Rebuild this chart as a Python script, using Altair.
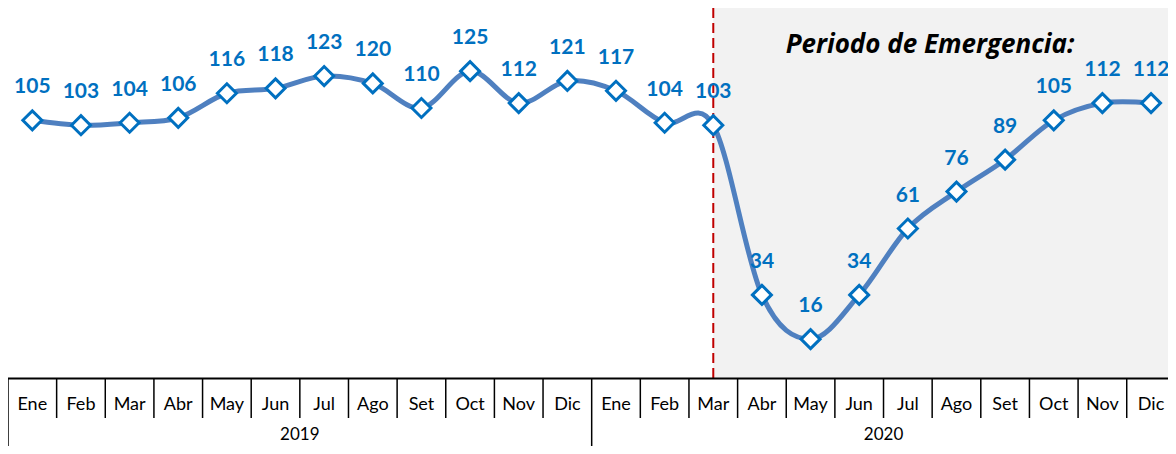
import altair as alt
import pandas as pd

months = ["Ene", "Feb", "Mar", "Abr", "May", "Jun", "Jul", "Ago", "Set", "Oct", "Nov", "Dic"]
years = ["2019", "2020"]
values_2019 = [105, 103, 104, 106, 116, 118, 123, 120, 110, 125, 112, 121]
values_2020 = [117, 104, 103, 34, 16, 34, 61, 76, 89, 105, 112, 112]
emergency_start = ("2020", "Mar")
annotation = "Periodo de Emergencia:"

rows = []
for yi, (yr, vals) in enumerate(zip(years, [values_2019, values_2020])):
    for mi, (m, v) in enumerate(zip(months, vals)):
        rows.append({"idx": yi * 12 + mi, "month": m, "year": yr, "value": v})
df = pd.DataFrame(rows)
n = len(df)
start_idx = years.index(emergency_start[0]) * 12 + months.index(emergency_start[1])

month_seps = pd.DataFrame({"b": [i - 0.5 for i in range(1, n) if i % 12 != 0]})
year_seps = pd.DataFrame({"b": [i - 0.5 for i in range(0, n + 1, 12)]})
year_lbl = pd.DataFrame({"year": years, "c": [yi * 12 + 5.5 for yi in range(len(years))]})

W, H = 1160, 438
col_w = 48.64
zero_px = 370.5
ppu = 2.459
y_top = zero_px / ppu
y_bot = -(H - zero_px) / ppu

xs = alt.Scale(domain=[-0.5, -0.5 + W / col_w], nice=False, zero=False)
ys = alt.Scale(domain=[y_bot, y_top], nice=False, zero=False)

X = lambda f: alt.X(f, scale=xs, axis=None)
Y = lambda f: alt.Y(f, scale=ys, axis=None)

one = pd.DataFrame({"a": [0]})
base = alt.Chart(df)

shade = alt.Chart(one).mark_rect(color="#F2F2F2").encode(
    x=alt.datum(start_idx, scale=xs, axis=None), x2=alt.datum(n - 0.5),
    y=alt.datum(y_top, scale=ys, axis=None), y2=alt.datum(0))

vline = alt.Chart(one).mark_rule(color="#C00000", strokeWidth=2, strokeDash=[10, 5]).encode(
    x=alt.datum(start_idx, scale=xs, axis=None),
    y=alt.datum(y_top, scale=ys, axis=None), y2=alt.datum(0))

line = base.mark_line(interpolate="cardinal", color="#4F80C0", strokeWidth=5).encode(
    x=X("idx:Q"), y=Y("value:Q"))

pts = base.mark_point(shape="diamond", filled=True, fill="white", stroke="#0070C0",
                      strokeWidth=3, size=360, opacity=1).encode(
    x=X("idx:Q"), y=Y("value:Q"))

lbls = base.mark_text(font="Lato", fontWeight="bold", fontSize=21, color="#0070C0",
                      dy=-33, baseline="middle").encode(
    x=X("idx:Q"), y=Y("value:Q"), text="value:Q")

note = alt.Chart(one).mark_text(font="Open Sans", fontWeight="bold", fontStyle="italic",
                                fontSize=26, color="black", align="center",
                                baseline="middle").encode(
    x=alt.value(922), y=alt.value(37), text=alt.value(annotation))

hline = alt.Chart(one).mark_rule(color="black", strokeWidth=2).encode(
    x=alt.datum(-0.5, scale=xs, axis=None), x2=alt.datum(n - 0.5),
    y=alt.datum(0, scale=ys, axis=None))

msep = alt.Chart(month_seps).mark_rule(color="black", strokeWidth=1.5).encode(
    x=X("b:Q"), y=alt.value(zero_px), y2=alt.value(410))

ysep = alt.Chart(year_seps).mark_rule(color="black", strokeWidth=1.5).encode(
    x=X("b:Q"), y=alt.value(zero_px), y2=alt.value(H))

mtxt = base.mark_text(font="Lato", fontSize=18, color="black", baseline="middle").encode(
    x=X("idx:Q"), y=alt.value(397), text="month:N")

ytxt = alt.Chart(year_lbl).mark_text(font="Lato", fontSize=17, color="black",
                                     baseline="middle").encode(
    x=X("c:Q"), y=alt.value(427), text="year:N")

chart = alt.layer(shade, vline, line, pts, lbls, note, hline, msep, ysep, mtxt, ytxt).properties(
    width=W, height=H, padding=0, background="white",
    autosize=alt.AutoSizeParams(type="none")
).configure_view(stroke=None)

chart.save("out.html", embed_options={"renderer": "svg", "actions": False})
